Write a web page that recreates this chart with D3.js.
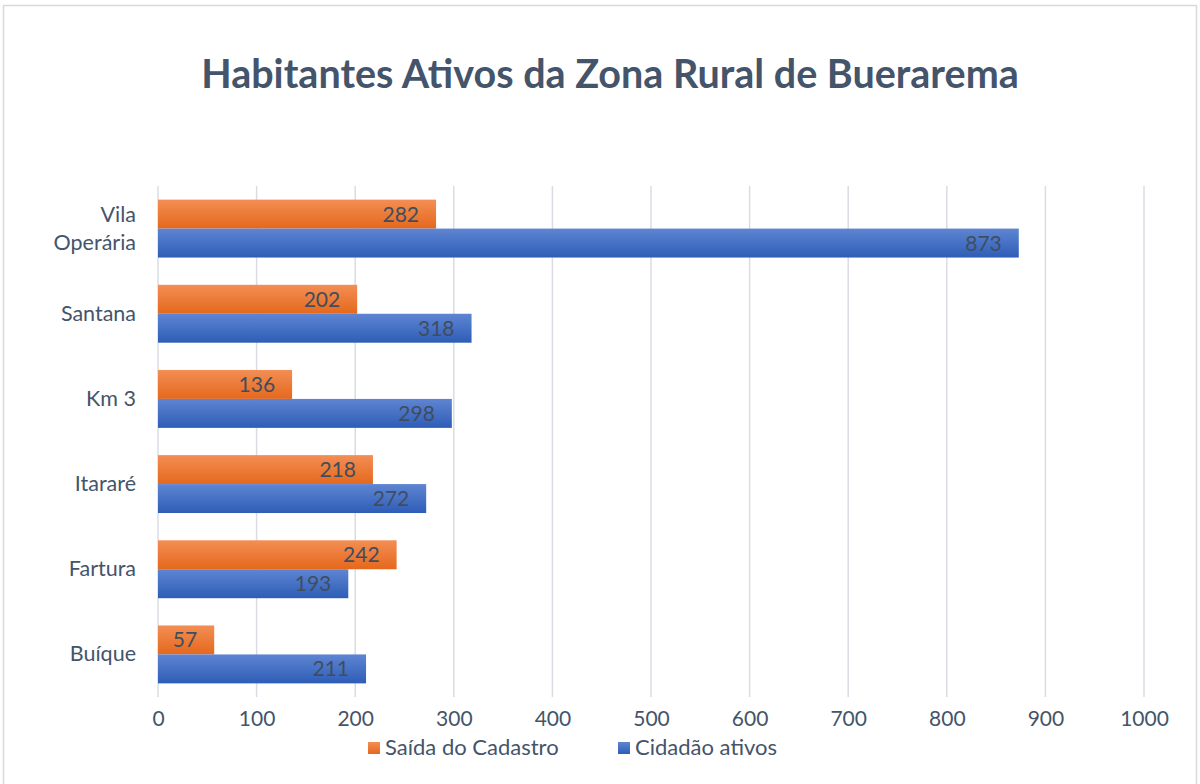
<!DOCTYPE html>
<html><head><meta charset="utf-8">
<script src="https://cdn.jsdelivr.net/npm/d3@7"></script>
<style>body{margin:0;background:#fff}svg{display:block}</style>
</head><body><svg id="c" width="1200" height="784"></svg>
<script>
const categories = ["Vila Operária","Santana","Km 3","Itararé","Fartura","Buíque"];
const saida = [282,202,136,218,242,57];
const cidadao = [873,318,298,272,193,211];
const seriesNames = ["Saída do Cadastro","Cidadão ativos"];
const xTicks = [0,100,200,300,400,500,600,700,800,900,1000];

const svg = d3.select("#c");
const font = "Lato, 'Open Sans', sans-serif";
const textCol = "#44546A";
const defs = svg.append("defs");
const g1 = defs.append("linearGradient").attr("id","go").attr("x1",0).attr("y1",0).attr("x2",0).attr("y2",1);
g1.append("stop").attr("offset","0%").attr("stop-color","#F38E55");
g1.append("stop").attr("offset","100%").attr("stop-color","#E5681C");
const g2 = defs.append("linearGradient").attr("id","gb").attr("x1",0).attr("y1",0).attr("x2",0).attr("y2",1);
g2.append("stop").attr("offset","0%").attr("stop-color","#5E85D2");
g2.append("stop").attr("offset","100%").attr("stop-color","#2E5DB7");

svg.append("rect").attr("x",3.5).attr("y",5.5).attr("width",1193).attr("height",790)
  .attr("fill","#fff").attr("stroke","#d9d9d9").attr("stroke-width",1.5);

svg.append("text").attr("x",610).attr("y",88).attr("text-anchor","middle")
  .attr("font-family",font).attr("font-weight","bold").attr("font-size",39.5).attr("fill",textCol)
  .text("Habitantes Ativos da Zona Rural de Buerarema");

const x = d3.scaleLinear().domain([0,1000]).range([158,1144]);
const y = d3.scaleBand().domain(categories).range([186,697]).paddingInner(0.32).paddingOuter(0.16);
const sub = d3.scaleBand().domain([0,1]).range([0,y.bandwidth()]);

const grid = svg.append("g");
grid.selectAll("line").data(xTicks).join("line")
  .attr("x1",d=>x(d)).attr("x2",d=>x(d)).attr("y1",186).attr("y2",697)
  .attr("stroke","#D9DDE3").attr("stroke-width",1.5);

const xa = svg.append("g").attr("transform","translate(0,697)")
  .call(d3.axisBottom(x).tickValues(xTicks).tickFormat(d3.format("d")).tickSize(0).tickPadding(14));
xa.select(".domain").remove();
xa.selectAll("text").attr("font-family",font).attr("font-size",21).attr("fill",textCol);

const ya = svg.append("g").attr("transform","translate(158,0)")
  .call(d3.axisLeft(y).tickSize(0).tickPadding(22));
ya.select(".domain").remove();
ya.selectAll(".tick text").attr("font-family",font).attr("font-size",21.5).attr("fill",textCol)
  .each(function(d){
    const t = d3.select(this);
    if(d === "Vila Operária"){
      const words = d.split(" ");
      t.text(null);
      words.forEach((w,i)=>t.append("tspan").attr("x",-22).attr("dy", i===0? "-0.3em":"1.3em").text(w));
    }
  });

const data = [saida,cidadao];
const fills = ["url(#go)","url(#gb)"];
data.forEach((vals,si)=>{
  const g = svg.append("g");
  g.selectAll("rect").data(vals).join("rect")
    .attr("x",x(0)).attr("y",(d,i)=>y(categories[i])+sub(si))
    .attr("width",d=>x(d)-x(0)).attr("height",sub.bandwidth())
    .attr("fill",fills[si]);
  g.selectAll("text").data(vals).join("text")
    .attr("x",d=>x(d)-17).attr("y",(d,i)=>y(categories[i])+sub(si)+sub.bandwidth()/2+7.5)
    .attr("text-anchor","end").attr("font-family",font).attr("font-size",21).attr("fill","#404D5E")
    .text(d=>d);
});

const leg = svg.append("g");
const legX = [368,618];
seriesNames.forEach((n,i)=>{
  leg.append("rect").attr("x",legX[i]).attr("y",742).attr("width",12).attr("height",12).attr("fill",fills[i]);
  leg.append("text").attr("x",legX[i]+17).attr("y",755).attr("font-family",font).attr("font-size",22)
    .attr("fill",textCol).text(n);
});
</script></body></html>
